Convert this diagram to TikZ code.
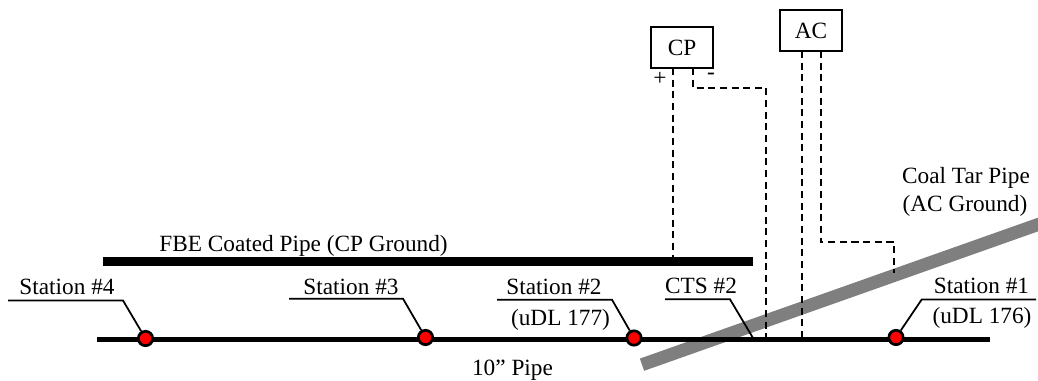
\documentclass[tikz,border=0pt]{standalone}
\usepackage{fontspec}
\setmainfont{Liberation Serif}
\usepackage{xcolor}
\usetikzlibrary{positioning,calc}
\definecolor{tarpipe}{RGB}{127, 127, 127}

\begin{document}
\begin{tikzpicture}[
    x=0.025cm, y=-0.025cm,
    every node/.style={font=\fontsize{16.55}{18}\selectfont, inner sep=0pt},
    txt/.style={anchor=base, align=center},
    source/.style={rectangle, draw=black, line width=1.5pt, fill=white, minimum width=1.56cm, minimum height=1.02cm},
    station/.style={circle, draw=black, line width=1.9pt, fill=red, minimum size=0.36cm},
    pipe/.style={line width=3.6pt},
    fbepipe/.style={line width=5.9pt},
    coalpipe/.style={line width=9.2pt, draw=tarpipe},
    leader/.style={line width=1.25pt},
    wire/.style={line width=1.3pt, dash pattern=on 5pt off 3.3pt}
]
\clip (0,0) rectangle (1038,381);

% Pipes
\coordinate (fbe_left) at (103,261.5);
\coordinate (fbe_right) at (753,261.5);
\coordinate (main_left) at (97,339.5);
\coordinate (main_right) at (990,339.5);
\coordinate (coal_low) at (642,364.7);
\coordinate (coal_high) at (1046,221.7);
\draw[coalpipe] (coal_low) -- (coal_high);
\draw[fbepipe] (fbe_left) -- (fbe_right);
\draw[pipe] (main_left) -- (main_right);

% Sources
\node[source] (cp) at (682,47.5) {CP};
\node[source] (ac) at (811,30.5) {AC};

% Wiring
\coordinate (cp_plus) at (673.3,68);
\coordinate (cp_plus_end) at (673.3,258);
\coordinate (cp_minus) at (693.3,68);
\coordinate (cp_minus_a) at (693.3,88);
\coordinate (cp_minus_b) at (766.3,88);
\coordinate (cp_minus_end) at (766.3,338);
\coordinate (ac_left) at (801.7,51);
\coordinate (ac_left_end) at (801.7,338);
\coordinate (ac_right) at (820.7,51);
\coordinate (ac_right_a) at (820.7,242);
\coordinate (ac_right_b) at (894,242);
\coordinate (ac_right_end) at (894,273);
\draw[wire] (cp_plus) -- (cp_plus_end);
\draw[wire] (cp_minus) -- (cp_minus_a) -- (cp_minus_b) -- (cp_minus_end);
\draw[wire] (ac_left) -- (ac_left_end);
\draw[wire] (ac_right) -- (ac_right_a) -- (ac_right_b) -- (ac_right_end);
\node (plus) at (660,79) {+};
\node (minus) at (711,76) {-};

% Stations
\node[station] (st4) at (145.5,338.5) {};
\node[station] (st3) at (425.5,337.5) {};
\node[station] (st2) at (634,338) {};
\node[station] (st1) at (896,337.5) {};

% Leaders
\coordinate (st4_a) at (8,300.5);
\coordinate (st4_b) at (123,300.5);
\coordinate (st3_a) at (289,298.7);
\coordinate (st3_b) at (403,298.7);
\coordinate (st2_a) at (497,299.7);
\coordinate (st2_b) at (612,299.7);
\coordinate (st1_a) at (1036,299.5);
\coordinate (st1_b) at (921.7,299.5);
\coordinate (cts_a) at (665,299.3);
\coordinate (cts_b) at (730,299.3);
\coordinate (cts_end) at (753,338);
\draw[leader] (st4_a) -- (st4_b) -- (st4);
\draw[leader] (st3_a) -- (st3_b) -- (st3);
\draw[leader] (st2_a) -- (st2_b) -- (st2);
\draw[leader] (st1_a) -- (st1_b) -- (st1);
\draw[leader] (cts_a) -- (cts_b) -- (cts_end);

% Labels
\node[txt] (st4_text) at (67,294) {Station \#4};
\node[txt] (st3_text) at (351,294) {Station \#3};
\node[txt] (st2_text) at (554,294) {Station \#2};
\node[txt] (st2_dl) at (560.5,325) {(uDL 177)};
\node[txt] (st1_text) at (981.5,293) {Station \#1};
\node[txt] (st1_dl) at (982,323.5) {(uDL 176)};
\node[txt] (cts_text) at (701,293) {CTS \#2};
\node[txt] (fbe_text) at (303.5,251.7) {FBE Coated Pipe (CP Ground)};
\node[txt] (main_text) at (512.5,375.7) {10” Pipe};
\node[txt] (coal_text) at (966,183) {Coal Tar Pipe};
\node[txt] (coal_ground) at (965,211) {(AC Ground)};

\end{tikzpicture}
\end{document}
